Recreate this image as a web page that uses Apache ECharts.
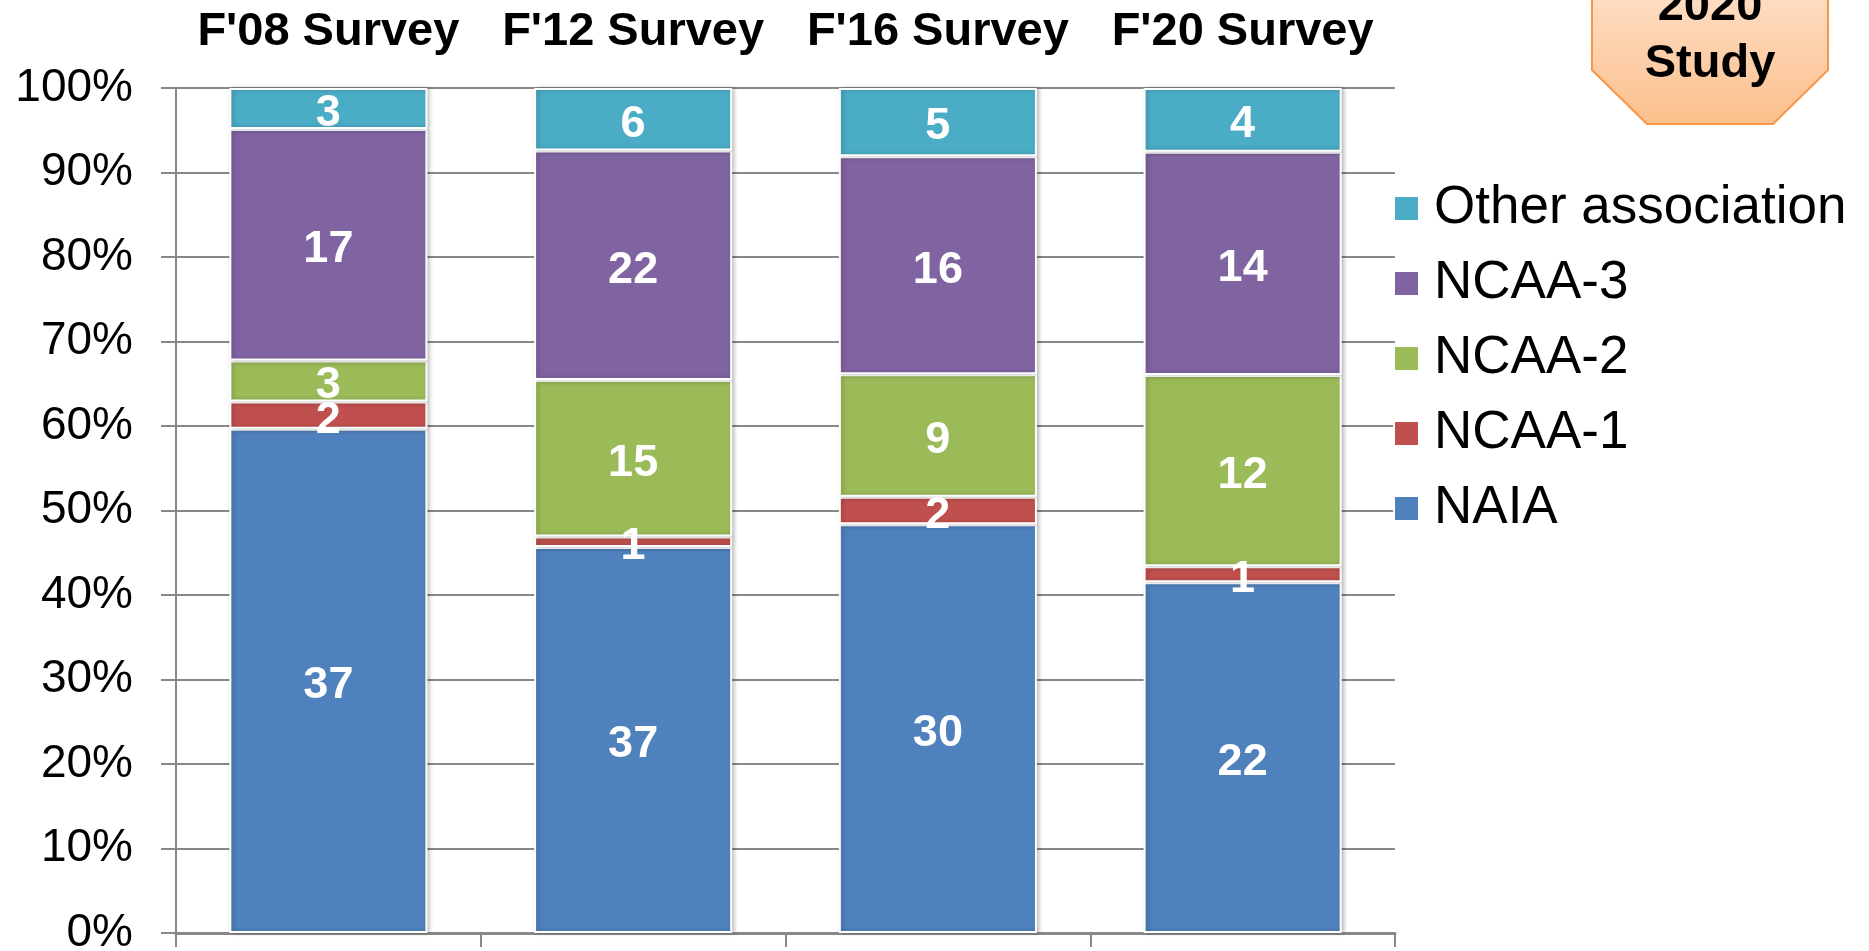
<!DOCTYPE html>
<html>
<head>
<meta charset="utf-8">
<script src="https://cdn.jsdelivr.net/npm/echarts@6/dist/echarts.min.js"></script>
<style>
  html, body { margin: 0; padding: 0; background: #fff; }
  #chart { width: 1869px; height: 951px; }
</style>
</head>
<body>
<div id="chart"></div>
<script>
// survey columns
let surveys = ["F'08 Survey", "F'12 Survey", "F'16 Survey", "F'20 Survey"];

// counts per association (bottom to top of the stack)
let naia = [37, 37, 30, 22];
let ncaa1 = [2, 1, 2, 1];
let ncaa2 = [3, 15, 9, 12];
let ncaa3 = [17, 22, 16, 14];
let other = [3, 6, 5, 4];

let yTicks = [0, 10, 20, 30, 40, 50, 60, 70, 80, 90, 100];

let groups = [
    { name: 'NAIA', counts: naia, color: '#4f81bd' },
    { name: 'NCAA-1', counts: ncaa1, color: '#c0504d' },
    { name: 'NCAA-2', counts: ncaa2, color: '#9bbb59' },
    { name: 'NCAA-3', counts: ncaa3, color: '#8064a2' },
    { name: 'Other association', counts: other, color: '#4bacc6' }
];

let totals = surveys.map(function (s, i) {
    let sum = 0;
    for (let g of groups) sum += g.counts[i];
    return sum;
});

let font = 'Arial, "Liberation Sans", sans-serif';

let chart = echarts.init(document.getElementById('chart'));
chart.setOption(makeOptions());

function makeSeries(group) {
    return {
        type: 'bar',
        name: group.name,
        stack: 'all',
        barWidth: '65%',
        itemStyle: {
            color: group.color,
            borderColor: '#ffffff',
            borderWidth: 2,
            shadowColor: 'rgba(0,0,0,0.25)',
            shadowBlur: 4,
            shadowOffsetX: 2
        },
        label: {
            show: true,
            position: 'inside',
            offset: [0, 5],
            color: '#ffffff',
            fontFamily: font,
            fontWeight: 'bold',
            fontSize: 45,
            formatter: function (p) {
                return group.counts[p.dataIndex];
            }
        },
        data: group.counts.map(function (c, i) {
            return c / totals[i] * 100;
        })
    };
}

function makeOptions() {
    return {
        animation: false,
        textStyle: { fontFamily: font },
        grid: {
            left: 176, right: 474, top: 88, bottom: 18,
            containLabel: false,
            outerBoundsMode: 'none'
        },
        legend: {
            orient: 'vertical',
            left: 1393,
            top: 182,
            padding: 0,
            itemWidth: 25,
            itemHeight: 25,
            itemGap: 22,
            icon: 'rect',
            data: ['Other association', 'NCAA-3', 'NCAA-2', 'NCAA-1', 'NAIA'],
            textStyle: {
                fontSize: 53,
                lineHeight: 50,
                height: 50,
                color: '#000',
                padding: [0, 0, 0, 10]
            }
        },
        xAxis: [
            {
                type: 'category',
                data: surveys,
                position: 'bottom',
                axisLine: { lineStyle: { color: '#888', width: 3 } },
                axisTick: { show: true, length: 14, lineStyle: { color: '#888', width: 2 } },
                axisLabel: { show: false }
            },
            {
                type: 'category',
                data: surveys,
                position: 'top',
                axisLine: { show: false },
                axisTick: { show: false },
                axisLabel: {
                    interval: 0,
                    hideOverlap: false,
                    margin: 32,
                    fontSize: 47,
                    fontWeight: 'bold',
                    color: '#000'
                }
            }
        ],
        yAxis: {
            type: 'value',
            min: yTicks[0],
            max: yTicks[yTicks.length - 1],
            interval: 10,
            axisLine: { show: true, lineStyle: { color: '#888', width: 2 } },
            axisTick: { show: true, length: 15, lineStyle: { color: '#888', width: 2 } },
            splitLine: { lineStyle: { color: '#888', width: 2 } },
            axisLabel: {
                margin: 43,
                fontSize: 46,
                color: '#000',
                formatter: '{value}%'
            }
        },
        graphic: [
            {
                type: 'polygon',
                shape: {
                    points: [[1647, -60], [1773, -60], [1828, -6], [1828, 70], [1773, 124], [1647, 124], [1592, 70], [1592, -6]]
                },
                style: {
                    fill: new echarts.graphic.LinearGradient(0, 0, 0, 1, [
                        { offset: 0, color: '#feeadb' },
                        { offset: 1, color: '#fcbf8c' }
                    ]),
                    stroke: '#f79646',
                    lineWidth: 2
                }
            },
            {
                type: 'text',
                x: 1710,
                y: 7,
                style: {
                    text: '2020',
                    font: 'bold 47px ' + font,
                    fill: '#000',
                    align: 'center',
                    verticalAlign: 'middle'
                }
            },
            {
                type: 'text',
                x: 1710,
                y: 64,
                style: {
                    text: 'Study',
                    font: 'bold 47px ' + font,
                    fill: '#000',
                    align: 'center',
                    verticalAlign: 'middle'
                }
            }
        ],
        series: groups.map(makeSeries)
    };
}
</script>
</body>
</html>
